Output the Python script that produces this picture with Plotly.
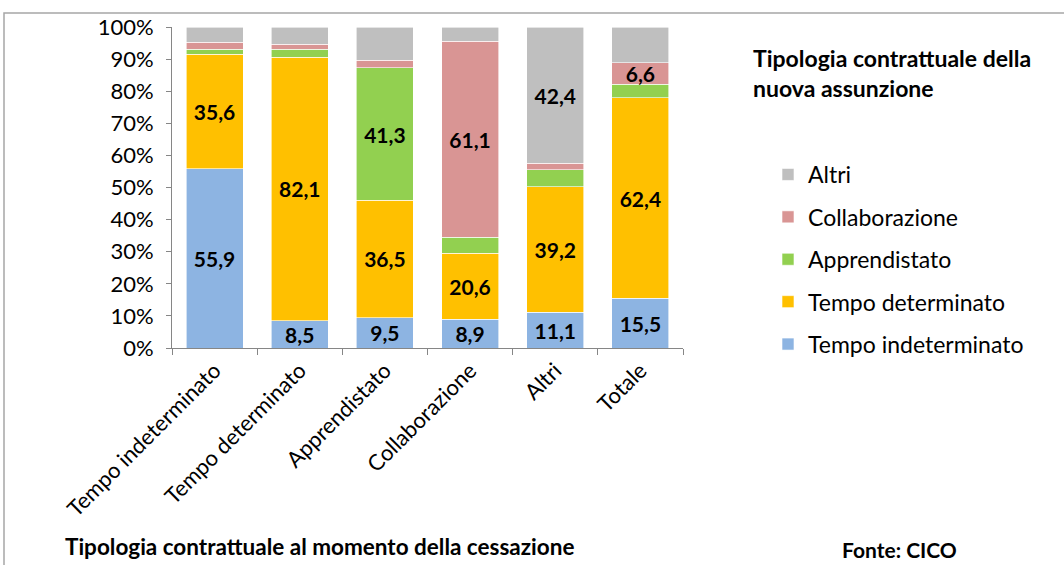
import plotly.graph_objects as go

categories = ["Tempo indeterminato", "Tempo determinato", "Apprendistato",
              "Collaborazione", "Altri", "Totale"]

tempo_indeterminato = [55.9, 8.5, 9.5, 8.9, 11.1, 15.5]
tempo_determinato = [35.6, 82.1, 36.5, 20.6, 39.2, 62.4]
apprendistato = [1.6, 2.4, 41.3, 5.0, 5.3, 4.3]
collaborazione = [2.1, 1.6, 2.4, 61.1, 2.0, 6.6]
altri = [4.8, 5.4, 10.3, 4.4, 42.4, 11.2]

# which segments carry a data label in the original
show_ti = [1, 1, 1, 1, 1, 1]
show_td = [1, 1, 1, 1, 1, 1]
show_ap = [0, 0, 1, 0, 0, 0]
show_co = [0, 0, 0, 1, 0, 1]
show_al = [0, 0, 0, 0, 1, 0]

series = [
    ("Tempo indeterminato", tempo_indeterminato, show_ti, "#8DB4E2"),
    ("Tempo determinato", tempo_determinato, show_td, "#FFC000"),
    ("Apprendistato", apprendistato, show_ap, "#92D050"),
    ("Collaborazione", collaborazione, show_co, "#D99594"),
    ("Altri", altri, show_al, "#BFBFBF"),
]

FONT = "Lato, sans-serif"

L, T, PW, PH = 172, 27, 511, 321


def px(x):
    return (x - L) / PW


def py(y):
    return (T + PH - y) / PH


fig = go.Figure()
n = len(series)
for i, (name, vals, show, color) in enumerate(series):
    labels = [f"{v:.1f}".replace(".", ",") if s else "" for v, s in zip(vals, show)]
    fig.add_trace(go.Bar(
        x=categories, y=vals, name=name,
        marker=dict(color=color, line=dict(color="white", width=0.6)),
        text=labels, textposition="inside", insidetextanchor="middle",
        textfont=dict(family=FONT, size=21, color="black", weight="bold"),
        legendgroup=f"g{i}", legendrank=n - i, hoverinfo="y+name",
    ))

fig.update_layout(
    barmode="stack",
    bargap=0.33,
    width=1064, height=565,
    margin=dict(l=L, r=1064 - L - PW, t=T, b=565 - T - PH),
    paper_bgcolor="white", plot_bgcolor="white",
    font=dict(family=FONT, size=22, color="black"),
    uniformtext=dict(minsize=21, mode="show"),
    showlegend=True,
    legend=dict(
        x=px(768), y=py(153), xanchor="left", yanchor="top",
        traceorder="grouped", tracegroupgap=9.5,
        font=dict(family=FONT, size=23, color="black"),
        itemwidth=30,
    ),
    xaxis=dict(
        showline=True, linecolor="#868686", linewidth=1,
        ticks="outside", tickson="boundaries", ticklen=6, tickcolor="#868686",
        tickangle=-45, tickfont=dict(family=FONT, size=22),
        showgrid=False,
    ),
    yaxis=dict(
        range=[0, 100], dtick=10, ticksuffix="%",
        showline=True, linecolor="#868686", linewidth=1,
        ticks="outside", ticklen=5, tickcolor="#868686",
        tickfont=dict(family=FONT, size=22), ticklabelstandoff=8,
        showgrid=False, zeroline=False,
    ),
    annotations=[
        dict(text="<b>Tipologia contrattuale della<br>nuova assunzione</b>",
             xref="paper", yref="paper", x=px(751), y=py(42),
             xanchor="left", yanchor="top", align="left", showarrow=False,
             font=dict(family=FONT, size=23, color="black")),
        dict(text="<b>Tipologia contrattuale al momento della cessazione</b>",
             xref="paper", yref="paper", x=px(63), y=py(546),
             xanchor="left", yanchor="middle", showarrow=False,
             font=dict(family=FONT, size=22.5, color="black")),
        dict(text="<b>Fonte: CICO</b>",
             xref="paper", yref="paper", x=px(840), y=py(549),
             xanchor="left", yanchor="middle", showarrow=False,
             font=dict(family=FONT, size=21, color="black")),
    ],
    shapes=[
        dict(type="rect", xref="paper", yref="paper",
             x0=px(4), x1=3.0, y0=-2.0, y1=py(13),
             line=dict(color="#A6A6A6", width=1.5), fillcolor="rgba(0,0,0,0)",
             layer="below"),
    ],
)

fig.write_html("out.html", config={"displayModeBar": False},
               post_script="document.body.style.margin='0px';")
